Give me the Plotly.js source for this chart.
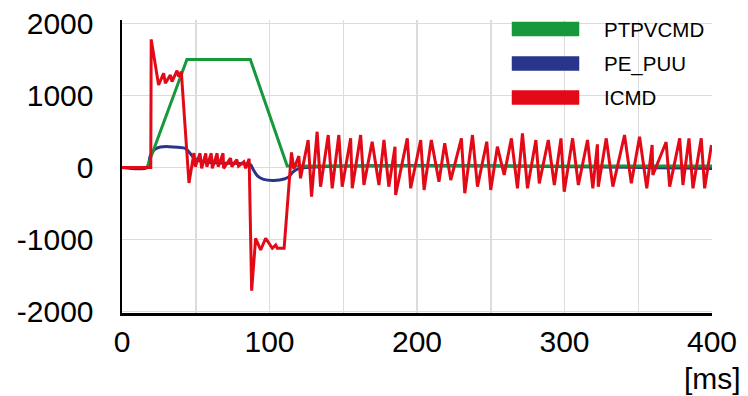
<!DOCTYPE html>
<html>
<head>
<meta charset="utf-8">
<script src="https://cdn.plot.ly/plotly-3.0.1.min.js"></script>
<style>html,body{margin:0;padding:0;background:#fff;}#chart{width:748px;height:396px;}</style>
</head>
<body>
<div id="chart"></div>
<script>
// ---- data (time in ms) ----
var seriesNames = ["PTPVCMD", "PE_PUU", "ICMD"];

var ptpvcmdT = [0, 17, 44, 87, 112, 400];
var ptpvcmdV = [0, 0, 1500, 1500, 20, 20];

var pePuuT = [0, 17, 19, 22, 26, 32, 38, 43, 46, 49, 53, 60, 70, 80, 87, 89, 92, 96, 103, 110, 113, 116, 120, 400];
var pePuuV = [0, 0, 150, 250, 285, 290, 280, 265, 200, 130, 90, 70, 60, 55, 40, -30, -120, -165, -180, -160, -130, -60, -15, -15];

var icmdT = [0, 19.5, 19.8, 24.8, 28.2, 29.4, 32.8, 33.9, 37.3, 38.4, 40.2, 45.4, 48.8, 49.7, 52.9, 54.0, 56.8, 57.5,
  60.5, 61.2, 64.5, 65.2, 68.5, 68.9, 73.6, 74.5, 77.8, 79.0, 82.6, 83.8, 86.2, 87.9, 90.6, 94.0, 97.4, 101.9,
  104.2, 105.3, 109.9, 114.9, 116.5, 119.9, 121.0, 126.2, 128.5, 132.3, 134.6, 139.8, 142.5, 147.0, 149.3,
  155.0, 156.1, 161.8, 164.0, 169.6, 174.2, 177.6, 180.9, 185.1, 185.5, 193.4, 195.7, 202.5, 204.8, 209.7,
  214.9, 218.8, 222.9, 230.1, 232.4, 237.6, 241.0, 247.3, 250.0, 254.5, 259.1, 264.0, 268.1, 271.5, 274.9,
  280.6, 282.9, 289.0, 293.1, 297.6, 299.8, 305.5, 309.4, 315.6, 319.2, 322.3, 322.9, 328.3, 332.8, 340.7,
  345.3, 350.9, 355.8, 359.4, 359.9, 368.9, 371.3, 378.1, 380.3, 384.4, 387.1, 392.7, 395.0, 399.6];
var icmdV = [0, 0, 1780, 1146, 1308, 1169, 1285, 1192, 1345, 1261, 1331, -215, 200, 11, 197, -11, 197, 11,
  197, -11, 197, 11, 197, -11, 130, 11, 110, 20, 80, -11, 120, -1711, -983, -1146, -983, -1122,
  -1076, -1122, -1122, 210, -20, 160, -150, 382, -405, 497, -266, 451, -289, 451, -266,
  405, -289, 451, -243, 358, -243, 382, -266, 289, -382, 405, -289, 382, -312, 382,
  -197, 336, -174, 405, -358, 451, -266, 358, -312, 289, -104, 405, -289, 475, -289,
  382, -220, 382, -243, 405, -336, 405, -243, 382, -289, 322, -266, 405, -266, 451,
  -220, 428, -289, 312, -104, 354, -266, 405, -243, 405, -289, 405, -289, 312];

var xTickVals = [0, 100, 200, 300, 400];
var xTickText = ["0", "100", "200", "300", "400"];
var yTickVals = [-2000, -1000, 0, 1000, 2000];
var yTickText = ["-2000", "-1000", "0", "1000", "2000"];
var xUnit = "[ms]";

// ---- styles ----
var colors = {"PTPVCMD": "#17993B", "PE_PUU": "#28358A", "ICMD": "#E30A18"};
var font = "Liberation Sans, Arial, Helvetica, sans-serif";

var traces = [
  {x: pePuuT, y: pePuuV, name: seriesNames[1], mode: "lines", line: {color: colors["PE_PUU"], width: 3, shape: "spline", smoothing: 0.8}},
  {x: ptpvcmdT, y: ptpvcmdV, name: seriesNames[0], mode: "lines", line: {color: colors["PTPVCMD"], width: 3}},
  {x: icmdT, y: icmdV, name: seriesNames[2], mode: "lines", line: {color: colors["ICMD"], width: 3}}
];

// custom legend (wide swatches)
var plotL = 122, plotR = 712, plotT = 20, plotB = 313;
function px2x(p) { return (p - plotL) / (plotR - plotL); }
function py2y(p) { return (plotB - p) / (plotB - plotT); }
var rowsY = [29, 63.5, 97.5];
var shapes = [], annotations = [];
seriesNames.forEach(function (nm, i) {
  shapes.push({type: "rect", xref: "paper", yref: "paper",
    x0: px2x(512), x1: px2x(579), y0: py2y(rowsY[i] + 7), y1: py2y(rowsY[i] - 7),
    fillcolor: colors[nm], line: {width: 0.5, color: colors[nm]}});
  annotations.push({xref: "paper", yref: "paper", x: px2x(602), y: py2y(rowsY[i]),
    xanchor: "left", yanchor: "middle", text: nm, showarrow: false,
    font: {family: font, size: 20.5, color: "#000"}});
});
annotations.push({xref: "paper", yref: "paper", x: px2x(743), y: py2y(378),
  xanchor: "right", yanchor: "middle", text: xUnit, showarrow: false,
  font: {family: font, size: 30, color: "#000"}});

var layout = {
  width: 748, height: 396,
  margin: {l: plotL, r: 748 - plotR, t: plotT, b: 396 - plotB, pad: 0},
  paper_bgcolor: "#fff", plot_bgcolor: "#fff",
  showlegend: false,
  font: {family: font, size: 30, color: "#000"},
  xaxis: {
    range: [0, 400], tickvals: xTickVals, ticktext: xTickText, ticks: "", showgrid: true,
    gridcolor: "#dcdcdc", gridwidth: 1.5,
    minor: {dtick: 50, showgrid: true, gridcolor: "#dcdcdc", gridwidth: 1.5},
    showline: true, linecolor: "#000", linewidth: 2.5, zeroline: false,
    tickfont: {family: font, size: 30, color: "#000"}, ticklabelstandoff: 0
  },
  yaxis: {
    range: [-2021, 2049], tickvals: yTickVals, ticktext: yTickText, ticks: "", showgrid: true,
    gridcolor: "#dcdcdc", gridwidth: 1.5,
    showline: true, linecolor: "#000", linewidth: 2.5, zeroline: false,
    tickfont: {family: font, size: 30, color: "#000"}, ticklabelstandoff: 20
  },
  shapes: shapes,
  annotations: annotations
};

Plotly.newPlot("chart", traces, layout, {staticPlot: true, displayModeBar: false});
</script>
</body>
</html>
